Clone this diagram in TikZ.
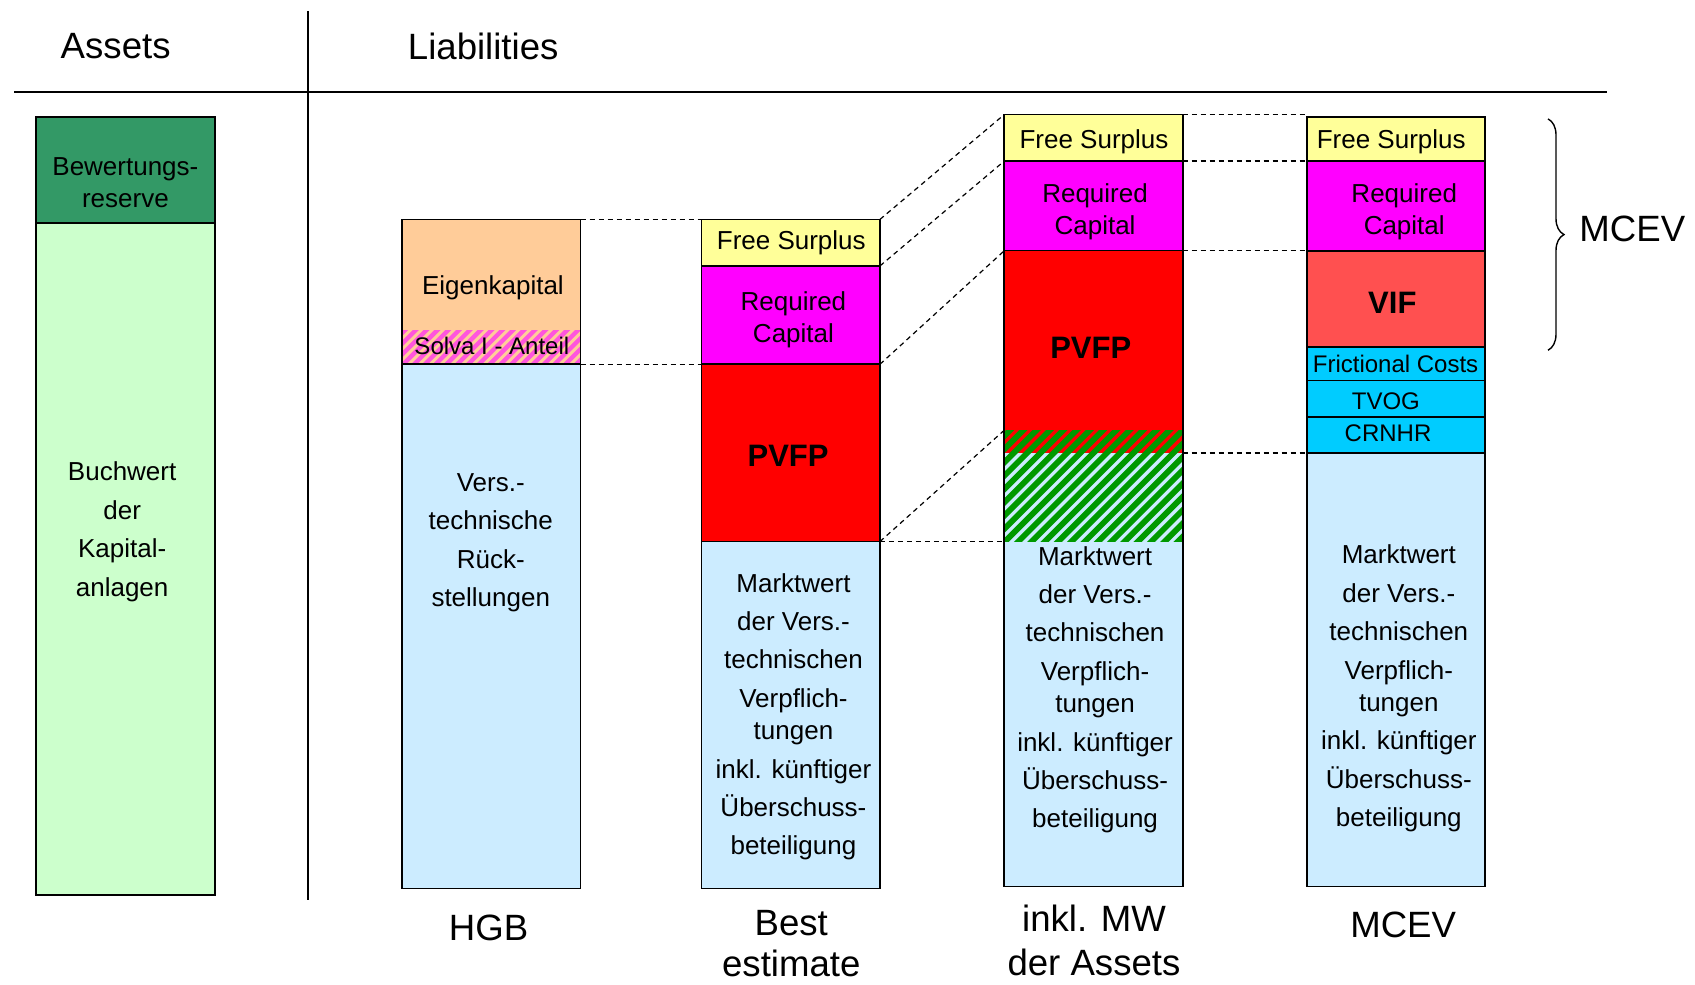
\documentclass[tikz,border=0pt]{standalone}
\usepackage{fontspec}
\setmainfont{Liberation Sans}
\usetikzlibrary{fit,decorations.pathreplacing}

\definecolor{bwres}{HTML}{339966}
\definecolor{buchw}{HTML}{CCFFCC}
\definecolor{eigk}{HTML}{FFCC99}
\definecolor{solva}{HTML}{FF55DD}
\definecolor{liab}{HTML}{CCECFF}
\definecolor{fsur}{HTML}{FFFF99}
\definecolor{reqc}{HTML}{FF00FF}
\definecolor{pvfp}{HTML}{FF0000}
\definecolor{vif}{HTML}{FF5050}
\definecolor{costs}{HTML}{00CCFF}
\definecolor{stripegreen}{HTML}{009900}

\tikzset{
  blk/.style={draw=black, line width=0.9pt, inner sep=0pt, outer sep=0pt},
  bare/.style={draw=none, inner sep=0pt, outer sep=0pt},
  outline/.style={draw=black, line width=0.9pt},
  txt/.style={font=\fontsize{13}{19.2}\selectfont, align=center, inner sep=0pt},
  tight/.style={font=\fontsize{13}{16.2}\selectfont, align=center, inner sep=0pt},
  small/.style={font=\fontsize{12}{14}\selectfont, inner sep=0pt},
  strong/.style={font=\fontsize{15.5}{18}\selectfont\bfseries, inner sep=0pt},
  big/.style={font=\fontsize{18.3}{21.6}\selectfont, align=center, inner sep=0pt},
  rule/.style={draw=black, line width=0.7pt},
  link/.style={draw=black, line width=0.6pt, dash pattern=on 2.5pt off 2pt},
}

\begin{document}
\begin{tikzpicture}[x=0.5405pt,y=-0.5405pt]
\useasboundingbox (0,0) rectangle (1568,911);

% header and separating rules
\node[big] (tAssets) at (107,43) {Assets};
\node[big] (tLiab) at (447,43) {Liabilities};
\coordinate (hl) at (13,85);
\coordinate (hr) at (1487,85);
\coordinate (vt) at (285,10);
\coordinate (vb) at (285,833);
\draw[rule] (hl) -- (hr);
\draw[rule] (vt) -- (vb);

% ---------- Assets ----------
\node[blk, fill=bwres, fit={(33,108) (199,206)}] (aBR) {};
\node[blk, fill=buchw, fit={(33,206) (199,828)}] (aBW) {};
\node[tight, font=\fontsize{13}{15.7}\selectfont] at (116,169) {Bewertungs-\\reserve};
\node[txt] at (113,492) {Buchwert\\der\\Kapital-\\anlagen};

% ---------- HGB ----------
\node[bare, fill=eigk, fit={(372,203) (537,305)}] (hEK) {};
\node[bare, fill=solva, fit={(372,305) (537,337)}] (hSA) {};
\begin{scope}
  \clip (hSA.south west) rectangle (hSA.north east);
  \foreach \s in {330,340,...,560}
    \draw[eigk, line width=1.5pt] (\s,345) -- ++(50,-50);
\end{scope}
\draw[outline] (hEK.north west) rectangle (hSA.south east);
\node[blk, fill=liab, fit={(372,337) (537,822)}] (hVR) {};
\node[txt] at (456,266) {Eigenkapital};
\node[small] at (455,320) {Solva I - Anteil};
\node[txt] at (454,502) {Vers.-\\technische\\Rück-\\stellungen};

% ---------- Best estimate ----------
\node[blk, fill=fsur, fit={(649,203) (814,246)}] (bFS) {};
\node[blk, fill=reqc, fit={(649,246) (814,337)}] (bRC) {};
\node[blk, fill=pvfp, fit={(649,337) (814,501)}] (bPV) {};
\node[blk, fill=liab, fit={(649,501) (814,822)}] (bMW) {};
\node[txt] at (732,225) {Free Surplus};
\node[tight] at (734,296) {Required\\Capital};
\node[strong] at (729,422) {PVFP};
\node[txt] at (734,663) {Marktwert\\der Vers.-\\technischen\\Verpflich-\\[-3pt]tungen\\inkl. künftiger\\Überschuss-\\beteiligung};

% ---------- inkl. MW der Assets ----------
\node[blk, fill=fsur, fit={(929,106) (1094,149)}] (iFS) {};
\node[blk, fill=reqc, fit={(929,149) (1094,232)}] (iRC) {};
\node[bare, fill=pvfp, fit={(929,232) (1094,398)}] (iPV) {};
\node[bare, fill=pvfp, fit={(929,398) (1094,419)}] (iHR) {};
\node[bare, fill=liab, fit={(929,419) (1094,501)}] (iHG) {};
\node[bare, fill=liab, fit={(929,501) (1094,820)}] (iMW) {};
\begin{scope}
  \clip (iHR.north west) rectangle (iHG.south east);
  \foreach \s in {800,812.3,...,1110}
    \draw[stripegreen, line width=2.9pt] (\s,520) -- ++(150,-150);
\end{scope}
\draw[outline] (iPV.north west) -- (iMW.south west) -- (iMW.south east) -- (iPV.north east);
\node[txt] at (1012,131) {Free Surplus};
\node[tight] at (1013,196) {Required\\Capital};
\node[strong] at (1009,322) {PVFP};
\node[txt] at (1013,638) {Marktwert\\der Vers.-\\technischen\\Verpflich-\\[-3pt]tungen\\inkl. künftiger\\Überschuss-\\beteiligung};

% ---------- MCEV ----------
\node[blk, fill=fsur, fit={(1209,108) (1374,149)}] (mFS) {};
\node[blk, fill=reqc, fit={(1209,149) (1374,232)}] (mRC) {};
\node[blk, fill=vif, fit={(1209,232) (1374,321)}] (mVIF) {};
\node[blk, fill=costs, fit={(1209,321) (1374,352)}] (mFC) {};
\node[blk, fill=costs, fit={(1209,352) (1374,386)}] (mTV) {};
\node[blk, fill=costs, fit={(1209,386) (1374,419)}] (mCR) {};
\node[blk, fill=liab, fit={(1209,419) (1374,820)}] (mMW) {};
\node[txt] at (1287,131) {Free Surplus};
\node[tight] at (1299,196) {Required\\Capital};
\node[strong] at (1288,280) {VIF};
\node[small] at (1291,337) {Frictional Costs};
\node[small] at (1282,371) {TVOG};
\node[small] at (1284,401) {CRNHR};
\node[txt] at (1294,637) {Marktwert\\der Vers.-\\technischen\\Verpflich-\\[-3pt]tungen\\inkl. künftiger\\Überschuss-\\beteiligung};

% brace over the MCEV components
\coordinate (brT) at (1432,110);
\coordinate (brB) at (1432,324);
\draw[line width=0.7pt, decorate, decoration={brace, amplitude=8pt}] (brT) -- (brB);
\node[big] (tBrace) at (1510,212) {MCEV};

% dashed links between the columns
\draw[link] (hEK.north east) -- (bFS.north west);
\draw[link] (hSA.south east) -- (bPV.north west);
\draw[link] (bFS.north east) -- (iFS.north west);
\draw[link] (bRC.north east) -- (iRC.north west);
\draw[link] (bPV.north east) -- (iPV.north west);
\draw[link] (bMW.north east) -- (iHR.north west);
\draw[link] (bMW.north east) -- (iMW.north west);
\draw[link] (iFS.north east) -- (iFS.north east -| mFS.west);
\draw[link] (iRC.north east) -- (mRC.north west);
\draw[link] (iPV.north east) -- (mVIF.north west);
\draw[link] (iHG.north east) -- (mMW.north west);

% column captions
\node[big] (cHGB) at (452,858) {HGB};
\node[big, font=\fontsize{18.3}{20.8}\selectfont] (cBE) at (732,873) {Best\\estimate};
\node[big] (cMW) at (1012,870) {inkl. MW\\der Assets};
\node[big] (cMCEV) at (1298,856) {MCEV};
\end{tikzpicture}
\end{document}
